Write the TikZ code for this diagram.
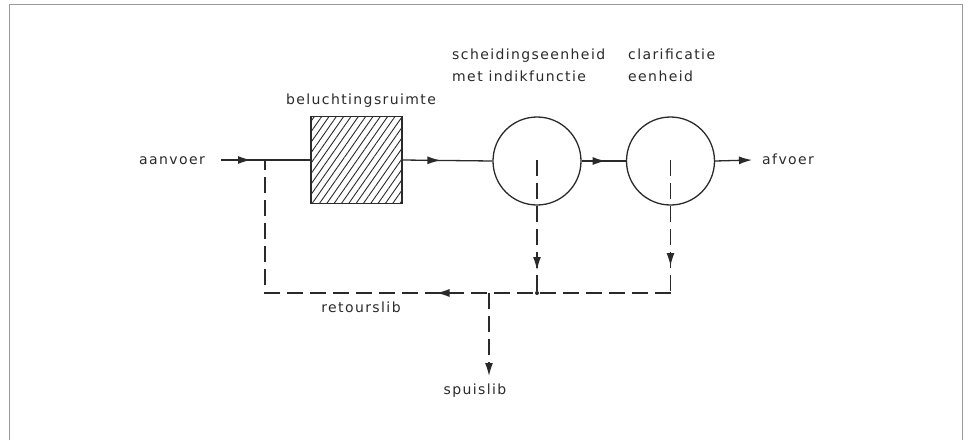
\documentclass[tikz,border=0pt]{standalone}
\usepackage{fontspec}
\setmainfont{DejaVu Sans}[LetterSpace=10]
\usetikzlibrary{arrows.meta,patterns.meta,decorations.markings}
\definecolor{ink}{HTML}{2A2A2A}
\definecolor{framec}{HTML}{9A9A9A}
\tikzset{
  lbl/.style={font=\fontsize{14}{22}\selectfont, text=ink, inner sep=0pt},
  flow/.style={draw=ink, line width=1.3pt},
  dsh/.style={flow, dash pattern=on 16pt off 7pt},
  tip/.style={-{Latex[length=13pt,width=8pt]}},
  marr/.style={postaction={decorate,decoration={markings,
     mark=at position #1 with {\arrow[solid,ink]{Latex[length=13pt,width=8pt]}}}}},
  tank/.style={draw=ink, line width=1.3pt, minimum width=91pt, minimum height=87pt,
     inner sep=0pt, pattern={Lines[angle=55,distance=6pt,line width=0.9pt]}, pattern color=ink},
  clar/.style={circle, draw=ink, line width=1.3pt, minimum size=88pt, inner sep=0pt},
}
\begin{document}
\begin{tikzpicture}[x=1pt,y=-1pt]
\useasboundingbox (0,0) rectangle (968,440);
% frame
\draw[framec, line width=1pt] (9,440) -- (9,4) -- (962,4) -- (962,440);

% units
\node[tank] (aer) at (356.5,160) {};
\node[clar] (sep) at (537,161) {};
\node[clar] (cla) at (670.5,161) {};

% labels
\node[lbl, anchor=base east] (lin) at (205,164) {aanvoer};
\node[lbl, anchor=base west] (lout) at (762,164) {afvoer};
\node[lbl, anchor=base] (laer) at (361,104) {beluchtingsruimte};
\node[lbl, anchor=north west, align=left] (lsep) at (452,49) {scheidingseenheid\\met indikfunctie};
\node[lbl, anchor=north west, align=left] (lcla) at (628,49) {clarificatie\\eenheid};
\node[lbl, anchor=base] (lret) at (361,312) {retourslib};
\node[lbl, anchor=base] (lspu) at (475,394) {spuislib};

% coordinates
\coordinate (in) at (221,160);
\coordinate (jin) at (265,160);
\coordinate (out) at (752,160);
\coordinate (sepc) at (537,160);
\coordinate (clac) at (670.5,160);
\coordinate (sepb) at (537,293);
\coordinate (clab) at (670.5,293);
\coordinate (retl) at (265,293);
\coordinate (spj) at (489,293);
\coordinate (spe) at (489,376);

% main flow
\draw[flow, marr=30pt] (in) -- (aer.west);
\draw[flow, marr=38pt] (aer.east) -- (sep.west);
\draw[flow, marr=24pt] (sep.east) -- (cla.west);
\draw[flow, tip] (cla.east) -- (out);

% sludge lines
\draw[dsh, marr=110pt] (sepc) -- (sepb);
\draw[dsh, marr=106pt] (clac) -- (clab);
\draw[dsh, marr=234pt] (clab) -- (retl) -- (jin);
\draw[dsh, tip] (spj) -- (spe);
\fill[ink] (sepb) circle (2pt);
\end{tikzpicture}
\end{document}
